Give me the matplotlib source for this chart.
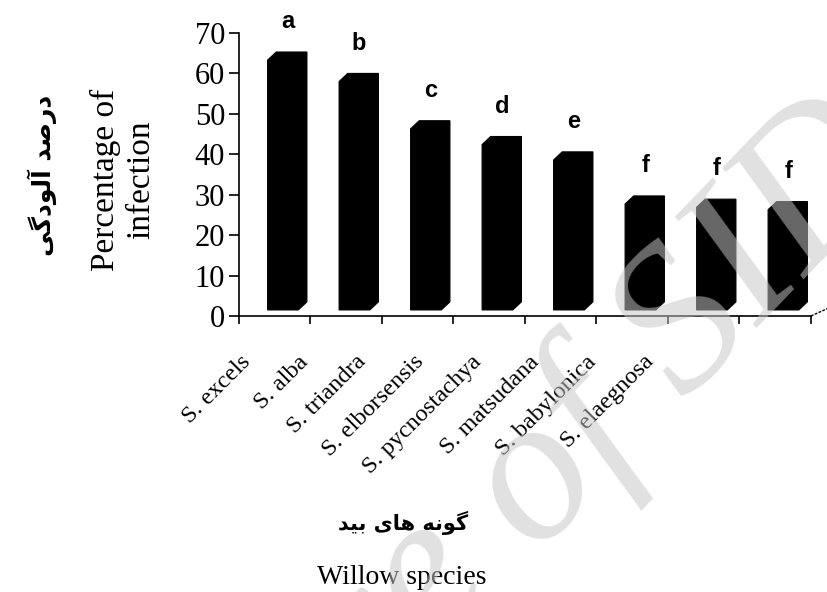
import matplotlib
matplotlib.use("Agg")
import matplotlib.pyplot as plt
from matplotlib.patches import Polygon
import matplotlib.transforms as mtransforms

# data
species = ["S. excels", "S. alba", "S. triandra", "S. elborsensis",
           "S. pycnostachya", "S. matsudana", "S. babylonica", "S. elaegnosa"]
infection = [63.8, 58.5, 46.8, 42.9, 39.1, 28.2, 27.4, 26.8]
groups = ["a", "b", "c", "d", "e", "f", "f", "f"]
yticks = [0, 10, 20, 30, 40, 50, 60, 70]

# Persian labels, written in Arabic presentation forms (visual order)
fa_ylabel = "\ufbfd\ufb94\ufea9\ufeee\ufedf\ufe81 \ufeaa\ufebb\ufead\ufea9"   # درصد آلودگی
fa_xlabel = "\ufeaa\ufbff\ufe91 \ufbfc\ufe8e\ufeeb \ufeea\ufee7\ufeee\ufb94"   # گونه های بید

serif = "Liberation Serif"
sans = "Liberation Sans"

fig = plt.figure(figsize=(8.28, 5.92), dpi=100)
ax = fig.add_axes([239/828, 1-316/592, (811-239)/828, (316-33)/592])
ax.set_xlim(0, len(species))
ax.set_ylim(0, 70)

depth = 1.5   # pseudo 3D offset
for i, v in enumerate(infection):
    l, r = i + 0.4, i + 0.95
    b, t = depth, v + depth
    dx, dy = 0.12, 2.0
    ax.add_patch(Polygon([(l, b), (r - dx, b), (r, b + dy), (r, t),
                          (l + dx, t), (l, t - dy)], closed=True,
                         fc="black", ec="black", lw=0.8))
    ax.text(i + 0.68, t + 7.5, groups[i], ha="center", va="center",
            fontsize=17, fontweight="bold", family=sans)

for s in ["top", "right"]:
    ax.spines[s].set_visible(False)
ax.spines["left"].set_linewidth(1.2)
ax.spines["bottom"].set_linewidth(1.2)

ax.set_yticks(yticks)
ax.set_yticklabels([str(v) for v in yticks], fontsize=22, family=serif)
ax.tick_params(axis="y", direction="out", length=7, width=1.2, pad=3)
ax.set_xticks(range(len(species) + 1))
ax.set_xticklabels([])
ax.tick_params(axis="x", direction="out", length=6, width=1.2)

# floor edge going back
ax.plot([8, 8.25], [0, 2], color="black", lw=1, ls=(0, (2, 1)), clip_on=False)

# category labels (squeezed spacing like in the original)
trans = mtransforms.blended_transform_factory(ax.transData, ax.transAxes)
for i, name in enumerate(species):
    ax.text(0.02 + 0.805 * i, -0.125, name, transform=trans, rotation=45,
            rotation_mode="anchor", ha="right", va="top",
            fontsize=17.5, family=serif)

fig.text(123/828, 1-180/592, "Percentage of\ninfection", rotation=90,
         ha="center", va="center", fontsize=24, family=serif,
         multialignment="center", linespacing=1.2)
fig.text(42/828, 1-175/592, fa_ylabel, rotation=90, ha="center", va="center",
         fontsize=18, fontweight="bold", family="DejaVu Sans")
fig.text(403/828, 1-523/592, fa_xlabel, ha="center", va="center",
         fontsize=15, fontweight="bold", family="DejaVu Sans")
fig.text(402/828, 1-577/592, "Willow species", ha="center", va="center",
         fontsize=20, family=serif)

# watermark
wm = dict(rotation=46, rotation_mode="anchor", va="baseline", fontsize=150,
          style="italic", family=serif, color="#c6c6c6", alpha=0.53, zorder=10)
fig.text(536/828, 1-556/592, "Archive ", ha="right", **wm)
fig.text(536/828, 1-556/592, "of SID", ha="left", **wm)

fig.savefig("out.png", dpi=100)
